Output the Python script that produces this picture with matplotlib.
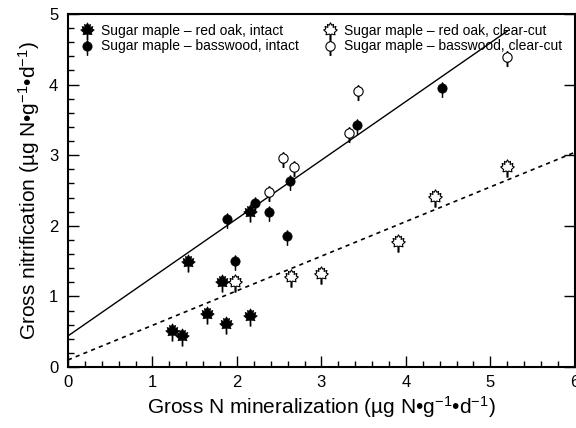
import numpy as np
import matplotlib
matplotlib.use("Agg")
import matplotlib.pyplot as plt
from matplotlib.path import Path
from matplotlib.ticker import MultipleLocator

plt.rcParams['font.family'] = ['Liberation Sans', 'DejaVu Sans']
plt.rcParams['mathtext.fontset'] = 'custom'
plt.rcParams['mathtext.rm'] = 'Liberation Sans'
plt.rcParams['mathtext.it'] = 'Liberation Sans:italic'

# ---- data ----
oak_intact_x = [1.23, 1.35, 1.42, 1.64, 1.82, 1.87, 2.15, 2.15]
oak_intact_y = [0.50, 0.43, 1.47, 0.74, 1.19, 0.60, 0.71, 2.18]

bass_intact_x = [1.88, 1.98, 2.21, 2.38, 2.59, 2.63, 3.42, 4.43]
bass_intact_y = [2.08, 1.49, 2.31, 2.18, 1.84, 2.62, 3.41, 3.94]

oak_cc_x = [1.98, 2.64, 3.00, 3.91, 4.34, 5.20]
oak_cc_y = [1.19, 1.26, 1.30, 1.75, 2.39, 2.82]

bass_cc_x = [2.38, 2.55, 2.67, 3.33, 3.43, 5.20]
bass_cc_y = [2.46, 2.95, 2.82, 3.30, 3.90, 4.37]

intact_fit = (0.44, 0.83)   # intercept, slope
intact_xrange = (0.0, 5.2)
cc_fit = (0.10, 0.49)
cc_xrange = (0.0, 6.0)

labels = ["Sugar maple \u2013 red oak, intact",
          "Sugar maple \u2013 basswood, intact",
          "Sugar maple \u2013 red oak, clear-cut",
          "Sugar maple \u2013 basswood, clear-cut"]

# ---- custom markers ----
leaf_pts = [(0, 1.0), (0.15, 0.72), (0.35, 0.82), (0.3, 0.47), (0.62, 0.58),
            (0.55, 0.28), (0.78, 0.18), (0.45, -0.12), (0.52, -0.38), (0.12, -0.3),
            (0.06, -0.36), (0.06, -1.0), (-0.06, -1.0), (-0.06, -0.36),
            (-0.12, -0.3), (-0.52, -0.38), (-0.45, -0.12), (-0.78, 0.18),
            (-0.55, 0.28), (-0.62, 0.58), (-0.3, 0.47), (-0.35, 0.82),
            (-0.15, 0.72), (0, 1.0)]
leaf_codes = [Path.MOVETO] + [Path.LINETO] * (len(leaf_pts) - 2) + [Path.CLOSEPOLY]
leaf_marker = Path(leaf_pts, leaf_codes)

pts = [(0.05, -0.46), (0.05, -1.0), (-0.05, -1.0), (-0.05, -0.46)]
ang2 = np.linspace(-np.pi / 2 - 0.09, -np.pi / 2 - 2 * np.pi + 0.09, 50)
for t in ang2:
    x = 0.58 * np.cos(t)
    y = 0.12 + 0.58 * np.sin(t)
    if abs(x) < 0.06 and y > 0.6:
        y = 0.85
    pts.append((x, y))
pts.append((0.05, -0.46))
bass_codes = [Path.MOVETO] + [Path.LINETO] * (len(pts) - 2) + [Path.CLOSEPOLY]
bass_marker = Path(pts, bass_codes)

fig = plt.figure(figsize=(5.76, 4.28), dpi=100)
ax = fig.add_axes([0.118, 0.1425, 0.88, 0.825])

# fits
xs = np.array(intact_xrange)
ax.plot(xs, intact_fit[0] + intact_fit[1] * xs, color='black', lw=1.0, zorder=1)
xs2 = np.array(cc_xrange)
ax.plot(xs2, cc_fit[0] + cc_fit[1] * xs2, color='black', lw=1.2, ls=(0, (2.5, 2.5)), zorder=1)

ms = 12.5
ax.scatter(oak_intact_x, oak_intact_y, marker=leaf_marker, s=ms**2, c='black',
           edgecolors='black', linewidths=0.5, label=labels[0], zorder=3)
ax.scatter(bass_intact_x, bass_intact_y, marker=bass_marker, s=ms**2 * 0.85, c='black',
           edgecolors='black', linewidths=0.5, label=labels[1], zorder=3)
ax.scatter(oak_cc_x, oak_cc_y, marker=leaf_marker, s=ms**2, c='white',
           edgecolors='black', linewidths=0.8, label=labels[2], zorder=3)
ax.scatter(bass_cc_x, bass_cc_y, marker=bass_marker, s=ms**2 * 0.85, c='white',
           edgecolors='black', linewidths=0.8, label=labels[3], zorder=3)

ax.set_xlim(0, 6)
ax.set_ylim(0, 5)
ax.xaxis.set_major_locator(MultipleLocator(1))
ax.xaxis.set_minor_locator(MultipleLocator(0.2))
ax.yaxis.set_major_locator(MultipleLocator(1))
ax.yaxis.set_minor_locator(MultipleLocator(0.2))
ax.tick_params(which='both', direction='in', labelsize=12, width=1.0)
ax.tick_params(which='major', length=8)
ax.tick_params(which='minor', length=4)
ax.tick_params(axis='x', which='major', pad=6)
ax.tick_params(axis='y', which='major', pad=7, right=True)
for s in ax.spines.values():
    s.set_linewidth(1.5)

ax.set_xlabel("Gross N mineralization (µg N•g$^{-1}$•d$^{-1}$)", fontsize=15, labelpad=3)
ax.set_ylabel("Gross nitrification (µg N•g$^{-1}$•d$^{-1}$)", fontsize=15, labelpad=5)

leg = ax.legend(loc='upper left', bbox_to_anchor=(0.022, 0.972), ncol=2, frameon=False,
                fontsize=10, handletextpad=0.4, columnspacing=1.6, labelspacing=0.1,
                handlelength=1.2, borderaxespad=0.0, borderpad=0.0)

fig.savefig("out.png", dpi=100)
